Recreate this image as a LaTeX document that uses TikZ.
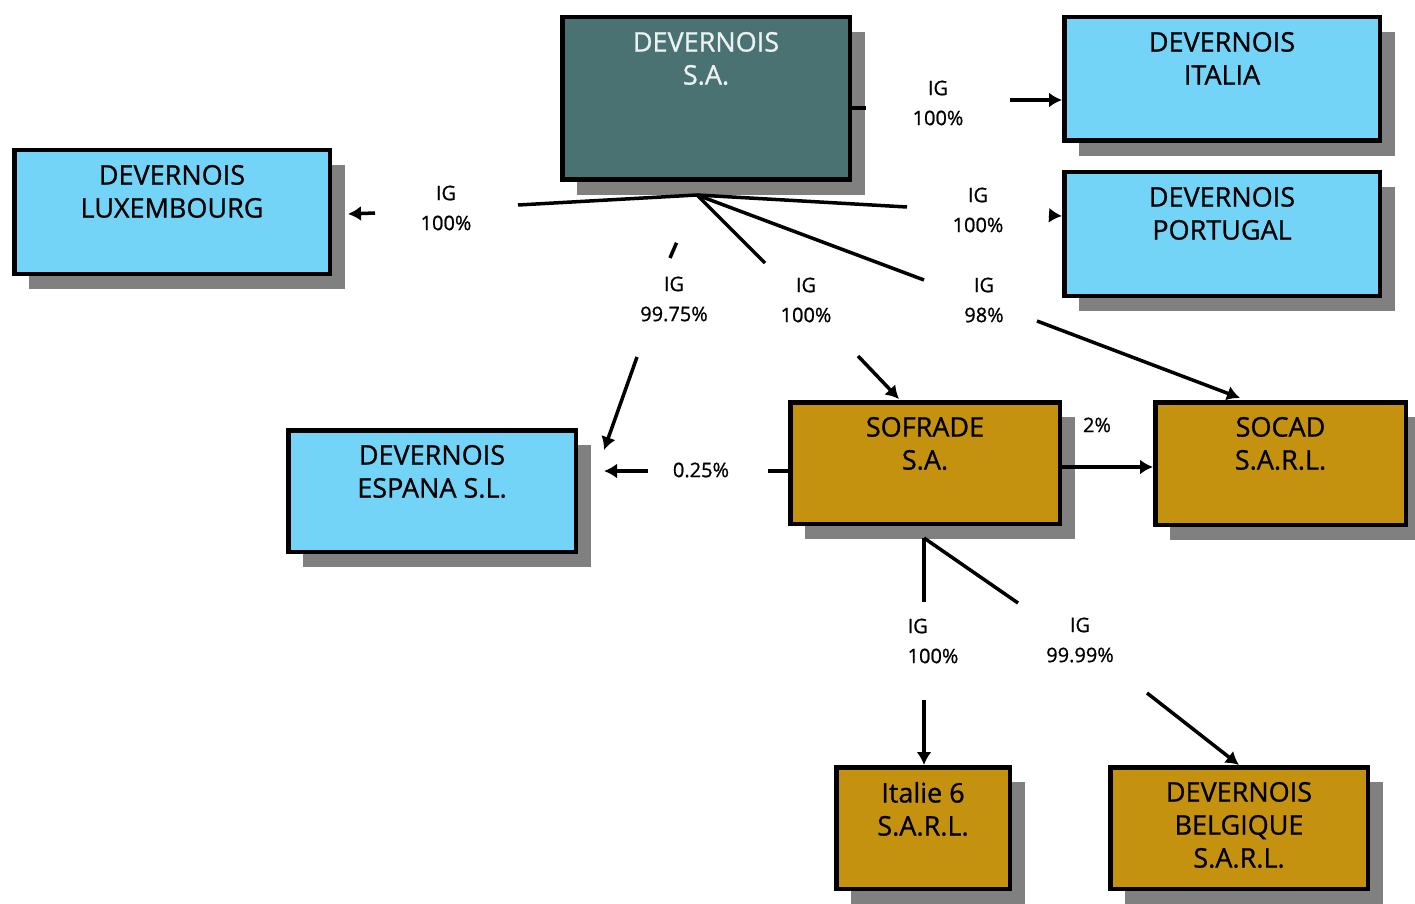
\documentclass[tikz,border=0pt]{standalone}
\usepackage{fontspec}
\setmainfont{Open Sans}
\newfontfamily\firmfont{Open Sans}[FakeBold=0.9]
\usetikzlibrary{arrows.meta,shadows}
\definecolor{devteal}{HTML}{4A7272}
\definecolor{devblue}{HTML}{73D4F7}
\definecolor{devgold}{HTML}{C4920E}
\definecolor{devshadow}{HTML}{808080}
\tikzset{
	firm/.style={draw=black, line width=4.5pt, rectangle, inner sep=0pt,
		drop shadow={shadow xshift=15pt, shadow yshift=-15pt, fill=devshadow, opacity=1}},
	firmtext/.style={anchor=north, yshift=-14pt, align=center, inner sep=3pt, line width=0pt,
		font=\firmfont\fontsize{27}{33}\selectfont},
	link/.style={line width=3.5pt},
	arr/.style={-{Latex[length=13pt,width=15pt]}},
	pct/.style={align=center, inner sep=0pt, font=\firmfont\fontsize{20}{30}\selectfont},
}
\begin{document}
\begin{tikzpicture}[x=1pt,y=-1pt]
		\useasboundingbox (0,0) rectangle (1415,904);

		% les societes
		\node[firm, fill=devteal, minimum width=287.5pt, minimum height=162.5pt,
			label={[firmtext, text=white!90!devteal]north:{DEVERNOIS\\S.A.}}] (sa) at (706,98.5) {};
		\node[firm, fill=devblue, minimum width=315.5pt, minimum height=123.5pt,
			label={[firmtext]north:{DEVERNOIS\\ITALIA}}] (italia) at (1222,79) {};
		\node[firm, fill=devblue, minimum width=315.5pt, minimum height=123.5pt,
			label={[firmtext]north:{DEVERNOIS\\PORTUGAL}}] (portugal) at (1222,234) {};
		\node[firm, fill=devblue, minimum width=315.5pt, minimum height=123.5pt,
			label={[firmtext]north:{DEVERNOIS\\LUXEMBOURG}}] (lux) at (172,212) {};
		\node[firm, fill=devblue, minimum width=287.5pt, minimum height=121.5pt,
			label={[firmtext]north:{DEVERNOIS\\ESPANA S.L.}}] (espana) at (432,491) {};
		\node[firm, fill=devgold, minimum width=269.5pt, minimum height=121.5pt,
			label={[firmtext]north:{SOFRADE\\S.A.}}] (sofrade) at (925,463) {};
		\node[firm, fill=devgold, minimum width=250.5pt, minimum height=122.5pt,
			label={[firmtext]north:{SOCAD\\S.A.R.L.}}] (socad) at (1280.5,463.5) {};
		\node[firm, fill=devgold, minimum width=173.5pt, minimum height=121.5pt,
			label={[firmtext]north:{Italie 6\\S.A.R.L.}}] (italie) at (923,828) {};
		\node[firm, fill=devgold, minimum width=257.5pt, minimum height=121.5pt,
			label={[firmtext]north:{DEVERNOIS\\BELGIQUE\\S.A.R.L.}}] (belgique) at (1239,828) {};

		% points de depart et coupures des liens
		\coordinate (hub) at (697,195);
		\coordinate (hubB) at (924,538);
		\coordinate (itA) at (866,108);
		\coordinate (itB) at (1010,100);
		\coordinate (ptA) at (907,207);
		\coordinate (ptB) at (1049,215.3);
		\coordinate (ptEnd) at (1062,216);
		\coordinate (luxA) at (518,205);
		\coordinate (luxB) at (375,213);
		\coordinate (luxEnd) at (348,214);
		\coordinate (esA) at (670,258);
		\coordinate (esB) at (637,357);
		\coordinate (esEnd) at (604,450);
		\coordinate (sofA) at (765,263);
		\coordinate (sofB) at (858,356);
		\coordinate (sofEnd) at (899,399);
		\coordinate (socA) at (924,280);
		\coordinate (socB) at (1037,321);
		\coordinate (socEnd) at (1240,398);
		\coordinate (minA) at (768,471);
		\coordinate (minB) at (648,471);
		\coordinate (minEnd) at (604,471);
		\coordinate (i6A) at (924,602);
		\coordinate (i6B) at (924,700);
		\coordinate (beA) at (1018,603);
		\coordinate (beB) at (1147,693);

		% les liens
		\draw[link] (sa.east |- itA) -- (itA);
		\draw[link,arr] (itB) -- (italia.west |- itB);
		\draw[link] (hub) -- (ptA);
		\draw[link,arr] (ptB) -- (ptEnd);
		\draw[link] (hub) -- (luxA);
		\draw[link,arr] (luxB) -- (luxEnd);
		\draw[link,shorten <=52pt] (hub) -- (esA);
		\draw[link,arr] (esB) -- (esEnd);
		\draw[link] (hub) -- (sofA);
		\draw[link,arr] (sofB) -- (sofEnd);
		\draw[link] (hub) -- (socA);
		\draw[link,arr] (socB) -- (socEnd);
		\draw[link,arr] (sofrade.east |- 0,467) -- (socad.west |- 0,467);
		\draw[link] (sofrade.west |- minA) -- (minA);
		\draw[link,arr] (minB) -- (minEnd);
		\draw[link] (hubB) -- (i6A);
		\draw[link,arr] (i6B) -- (i6B |- italie.north);
		\draw[link] (hubB) -- (beA);
		\draw[link,arr] (beB) -- (belgique.north);

		% les pourcentages
		\node[pct] (lblIt) at (938,103) {IG\\100\%};
		\node[pct] (lblPt) at (978,210) {IG\\100\%};
		\node[pct] (lblLux) at (446,208) {IG\\100\%};
		\node[pct] (lblEs) at (674,299) {IG\\99.75\%};
		\node[pct] (lblSof) at (806,300) {IG\\100\%};
		\node[pct] (lblSoc) at (984,300) {IG\\98\%};
		\node[pct] (lblSocad) at (1097,425) {2\%};
		\node[pct] (lblMin) at (701,470) {0.25\%};
		\node[pct, align=left] (lblI6) at (933,641) {IG\\100\%};
		\node[pct] (lblBe) at (1080,640) {IG\\99.99\%};
	\end{tikzpicture}
\end{document}
